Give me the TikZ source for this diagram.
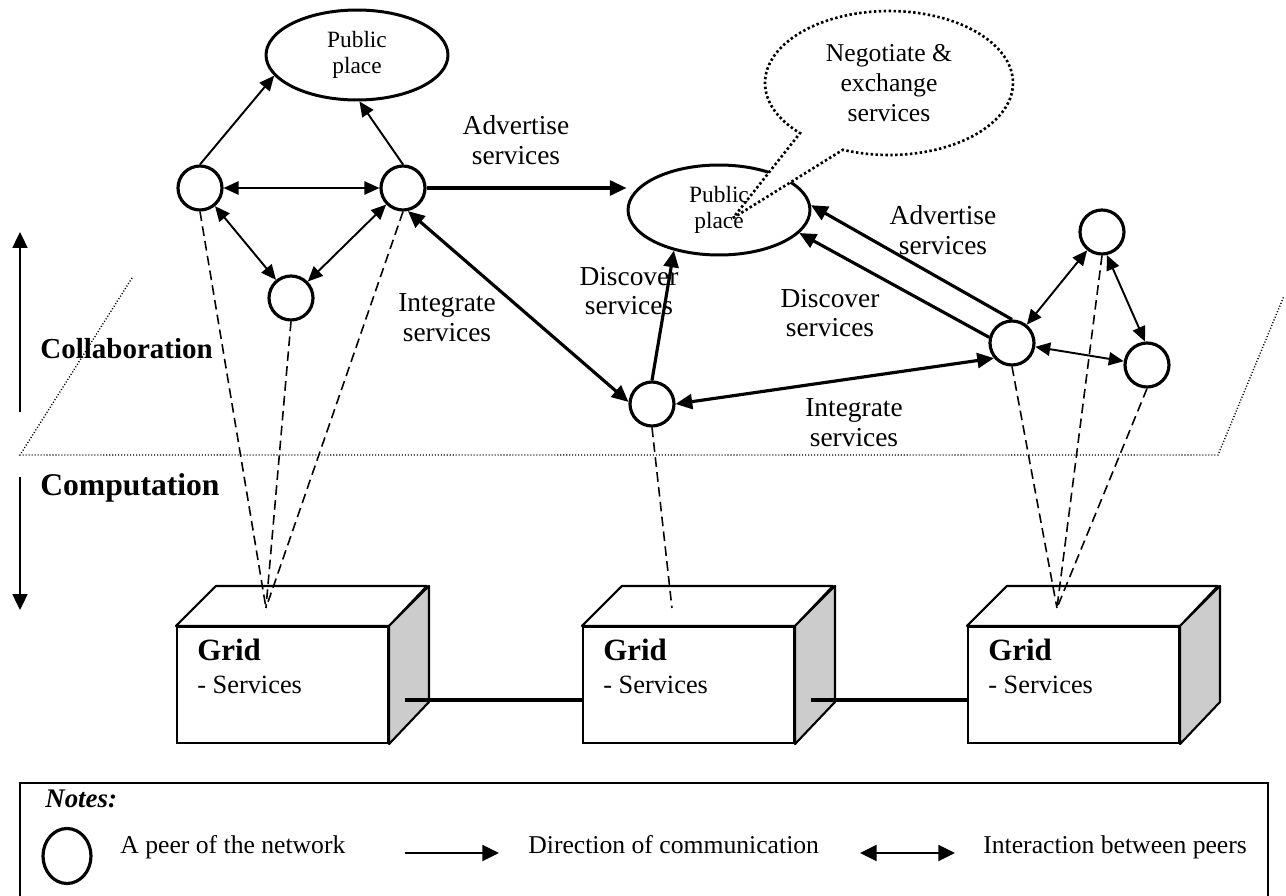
\documentclass[tikz,border=0pt]{standalone}
\usepackage{fontspec}
\setmainfont{Liberation Serif}
\usetikzlibrary{arrows.meta,calc,shapes.geometric,shapes.callouts}

\begin{document}
\begin{tikzpicture}[x=0.02cm,y=-0.02cm,
  peer/.style={circle,draw,line width=1.8pt,minimum size=0.88cm,inner sep=0pt},
  place/.style={ellipse,draw,line width=1.7pt,minimum width=3.64cm,minimum height=1.8cm,
    inner sep=0pt,align=center,font=\fontsize{13.3}{15}\selectfont},
  placetext/.style={align=center,inner sep=0pt,font=\fontsize{13.3}{15}\selectfont},
  lbl/.style={align=center,inner sep=0pt,font=\fontsize{15.6}{17}\selectfont},
  tell/.style={line width=1.1pt,-{Triangle[length=8.5pt,width=7.5pt]}},
  talk/.style={line width=1.1pt,{Triangle[length=8.5pt,width=7.5pt]}-{Triangle[length=8.5pt,width=7.5pt]}},
  heavy/.style={line width=1.8pt,-{Triangle[length=9.5pt,width=8.5pt]}},
  heavytalk/.style={line width=1.8pt,{Triangle[length=9.5pt,width=8.5pt]}-{Triangle[length=9.5pt,width=8.5pt]}},
  tether/.style={line width=0.9pt,dash pattern=on 5.5pt off 3pt},
  plane/.style={line width=0.8pt,dash pattern=on 0.6pt off 1.1pt},
  layerarrow/.style={line width=1.1pt,-{Triangle[length=9pt,width=8.5pt]}},
  layer/.style={anchor=base west,inner sep=0pt},
  say/.style={ellipse callout,draw,fill=white,line width=1.5pt,dash pattern=on 1.4pt off 1.4pt,
    minimum width=4.96cm,minimum height=2.88cm,inner sep=0pt,callout pointer arc=24,
    align=center,font=\fontsize{14.6}{17}\selectfont},
  gridbox/.style={draw,line width=1.2pt,minimum width=4.22cm,minimum height=2.32cm,inner sep=0pt},
  gridface/.style={draw,line width=1.2pt,line join=round},
  gridtitle/.style={anchor=base west,inner sep=0pt,font=\fontsize{17.6}{20}\selectfont\bfseries},
  gridsub/.style={anchor=base west,inner sep=0pt,font=\fontsize{15}{18}\selectfont},
  gridlink/.style={line width=1.8pt},
  legendbox/.style={line width=1pt},
  legtext/.style={anchor=base west,inner sep=0pt,font=\fontsize{14.6}{17}\selectfont},
  legarrow/.style={line width=1.4pt,-{Triangle[length=9.5pt,width=9pt]}},
  legtalk/.style={line width=1.4pt,{Triangle[length=9.5pt,width=9pt]}-{Triangle[length=9.5pt,width=9pt]}}]
  \useasboundingbox (0,0) rectangle (1286,896);

  % the plane between collaboration and computation
  \draw[plane] (132,278) -- (20,455) -- (1218,455) -- (1284,296);
  \coordinate (upfoot) at (20,412);
  \coordinate (uphead) at (20,232);
  \coordinate (downfoot) at (20,477);
  \coordinate (downhead) at (20,610);
  \draw[layerarrow] (upfoot) -- (uphead);
  \draw[layerarrow] (downfoot) -- (downhead);
  \node[layer,font=\fontsize{16.5}{19}\selectfont\bfseries] (collab) at (40,358) {Collaboration};
  \node[layer,font=\fontsize{18}{21}\selectfont\bfseries] (comput) at (40,495) {Computation};

  % peers and public places
  \node[peer] (pA) at (200,188) {};
  \node[peer] (pB) at (403,188) {};
  \node[peer] (pC) at (291,298) {};
  \node[peer] (pD) at (652,404) {};
  \node[peer] (pE) at (1012,343) {};
  \node[peer] (pF) at (1102,232) {};
  \node[peer] (pG) at (1147,365) {};
  \node[place] (pp1) at (357,55) {Public\\place};
  \node[place] (pp2) at (719,210) {};

  % grid boxes, one per group of peers
  \foreach \g/\x in {g1/282.5,g2/688.5,g3/1073.5}{
    \node[gridbox] (\g) at (\x,685) {};
    \draw[gridface] (\g.north west) -- ++(40,-40) -- ++(211,0) -- (\g.north east) -- cycle;
    \draw[gridface,fill=gray!40] (\g.north east) -- ++(40,-40) -- ++(0,116) -- (\g.south east) -- cycle;
    \node[gridtitle] (title\g) at ($(\g.north west)+(21,35)$) {Grid};
    \node[gridsub] (sub\g) at ($(\g.north west)+(21,68)$) {- Services};
    \coordinate (top\g) at ($(\g.north west)+(90,-18)$);
    \coordinate (out\g) at ($(\g.east)+(16,15)$);
  }
  \draw[gridlink] (outg1) -- (outg1 -| g2.west);
  \draw[gridlink] (outg2) -- (outg2 -| g3.west);

  % peers hang on their grid
  \foreach \p in {pA,pB,pC} \draw[tether] (\p.south) -- (topg1);
  \draw[tether] (pD.south) -- (topg2);
  \foreach \p in {pE,pF,pG} \draw[tether] (\p.south) -- (topg3);

  % left group
  \draw[tell] (pA.north) -- (pp1.194);
  \draw[tell] (pB.north) -- (pp1.273);
  \draw[talk] (pA) -- (pB);
  \draw[talk] (pA) -- (pC);
  \draw[talk] (pB) -- (pC);
  % across the groups
  \draw[heavy] (pB.east) -- (pB.east -| pp2.west);
  \draw[heavytalk] (pB.282) -- (pD.175);
  \draw[heavy] (pD.north) -- (pp2.222);
  \draw[heavytalk] (pD.east) -- (pE.220);
  \draw[heavy] (pE.north) -- (pp2.3);
  \draw[heavy] (pE.166) -- (pp2.344);
  % right group
  \draw[talk] (pE) -- (pF);
  \draw[talk] (pF.282) -- (pG.95);
  \draw[talk] (pE) -- (pG);

  \node[lbl] (advA) at (516,140) {Advertise\\services};
  \node[lbl] (intA) at (447,318) {Integrate\\services};
  \node[lbl] (disA) at (629,291) {Discover\\services};
  \node[lbl] (advB) at (943,230) {Advertise\\services};
  \node[lbl] (disB) at (830,313) {Discover\\services};
  \node[lbl] (intB) at (854,423) {Integrate\\services};

  % the speech bubble over the second public place
  \coordinate (saytip) at ($(pp2.center)+(14,8)$);
  \node[say,callout absolute pointer={(saytip)}] (say) at (889,83) {Negotiate \&\\exchange\\services};
  \node[placetext] (pp2text) at (pp2) {Public\\place};

  % notes
  \draw[legendbox] (20,897) -- (20,783) -- (1268,783) -- (1268,897);
  \node[legtext,font=\fontsize{15.3}{18}\selectfont\bfseries\itshape] (notes) at (45,807) {Notes:};
  \node[ellipse,draw,line width=1.8pt,minimum width=0.96cm,minimum height=1.1cm,inner sep=0pt] (legpeer) at (67,856) {};
  \node[legtext] (legpeertext) at (120,853) {A peer of the network};
  \coordinate (dirfoot) at (405,853);
  \coordinate (dirhead) at (499,853);
  \draw[legarrow] (dirfoot) -- (dirhead);
  \node[legtext] (legdir) at (528,853) {Direction of communication};
  \coordinate (intfoot) at (860,853);
  \coordinate (inthead) at (955,853);
  \draw[legtalk] (intfoot) -- (inthead);
  \node[legtext] (legint) at (983,853) {Interaction between peers};
\end{tikzpicture}
\end{document}
